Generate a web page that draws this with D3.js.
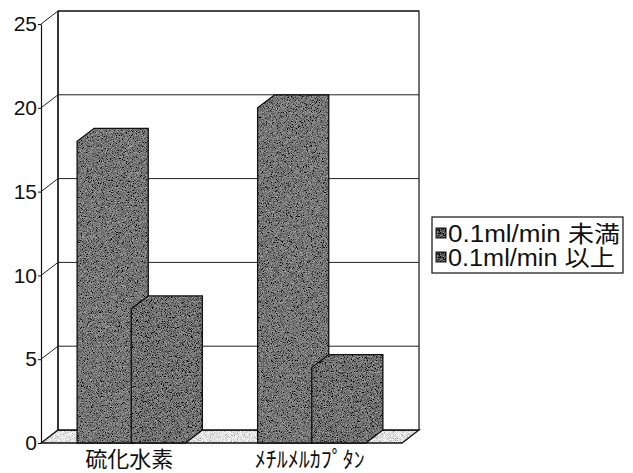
<!DOCTYPE html>
<html>
<head>
<meta charset="utf-8">
<script src="https://cdn.jsdelivr.net/npm/d3@7"></script>
<style>
  body { margin: 0; background: #fff; }
  text { font-family: "Liberation Sans", Arial, "Noto Sans CJK JP", sans-serif; }
</style>
</head>
<body>
<div id="wrapper"></div>
<script>
const categories = ["硫化水素", "ﾒﾁﾙﾒﾙｶﾌﾟﾀﾝ"]
const seriesNames = ["0.1ml/min 未満", "0.1ml/min 以上"]
const below01 = [18, 20]
const above01 = [8, 4.5]
const yTicks = [0, 5, 10, 15, 20, 25]

const width = 633
const height = 473
// depth of the 3d box (front plane -> back plane)
const dx = 17
const dy = -13

const svg = d3.select("#wrapper")
  .append("svg")
  .attr("width", width)
  .attr("height", height)
  .style("background", "#fff")

// grain filter, the source is a scanned print
const defs = svg.append("defs")
function grain(id, amount, seed, freq) {
  const f = defs.append("filter").attr("id", id)
    .attr("x", 0).attr("y", 0).attr("width", 1).attr("height", 1)
  f.append("feTurbulence").attr("type", "fractalNoise")
    .attr("baseFrequency", freq).attr("numOctaves", 2).attr("seed", seed).attr("result", "noise")
  f.append("feColorMatrix").attr("in", "noise").attr("type", "matrix")
    .attr("values", "0.33 0.33 0.33 0 0  0.33 0.33 0.33 0 0  0.33 0.33 0.33 0 0  0 0 0 0 1")
    .attr("result", "gray")
  f.append("feComposite").attr("in", "SourceGraphic").attr("in2", "gray")
    .attr("operator", "arithmetic")
    .attr("k1", 0).attr("k2", 1).attr("k3", amount).attr("k4", -amount / 2)
    .attr("result", "mix")
  f.append("feComposite").attr("in", "mix").attr("in2", "SourceGraphic").attr("operator", "in")
}
grain("grainDark", 1.3, 4, 1.2)
grain("grainLight", 2.4, 7, 1.3)

const y = d3.scaleLinear().domain([0, 25]).range([443, 24])
const x0 = d3.scaleBand().domain(categories).range([41, 402])
const x1 = d3.scaleBand().domain(seriesNames).range([0, x0.bandwidth()])
  .paddingInner(0).paddingOuter(0.667)

const xLeft = x0.range()[0]
const xRight = x0.range()[1]
const yTop = y(25)
const yBase = y(0)

const line = d3.line()

// floor
const floorPts = [[xLeft, yBase], [xRight, yBase], [xRight + dx, yBase + dy], [xLeft + dx, yBase + dy]]
svg.append("path")
  .attr("d", line(floorPts) + "Z")
  .attr("fill", "#e4e4e4")
  .attr("filter", "url(#grainLight)")
svg.append("path")
  .attr("d", line(floorPts) + "Z")
  .attr("fill", "none").attr("stroke", "#111").attr("stroke-width", 1.3)

// back wall + left wall
svg.append("rect")
  .attr("x", xLeft + dx).attr("y", yTop + dy)
  .attr("width", xRight - xLeft).attr("height", yBase - yTop)
  .attr("fill", "#fff").attr("stroke", "#111").attr("stroke-width", 1.2)

const grid = svg.append("g")
grid.selectAll("path.grid")
  .data(yTicks)
  .join("path")
  .attr("class", "grid")
  .attr("d", d => line([[xLeft, y(d)], [xLeft + dx, y(d) + dy], [xRight + dx, y(d) + dy]]))
  .attr("fill", "none")
  .attr("stroke", "#222")
  .attr("stroke-width", 1)

svg.append("line")
  .attr("x1", xLeft + dx).attr("x2", xLeft + dx)
  .attr("y1", yTop + dy).attr("y2", yBase + dy)
  .attr("stroke", "#111").attr("stroke-width", 1.2)

// bars, drawn as one silhouette each (the print shows no inner edges)
const series = [below01, above01]
const barColors = ["#777777", "#727272"]

const barShapes = []
categories.forEach((c, ci) => {
  seriesNames.forEach((s, si) => {
    const v = series[si][ci]
    const bx = x0(c) + x1(s)
    const bw = x1.bandwidth()
    const by = y(v)
    barShapes.push({
      si,
      outline: [[bx, yBase], [bx, by], [bx + dx, by + dy], [bx + bw + dx, by + dy],
                [bx + bw + dx, yBase + dy], [bx + bw, yBase]]
    })
  })
})

const bars = svg.append("g")
barShapes.forEach(b => {
  const g = bars.append("g")
  g.append("path").attr("d", line(b.outline) + "Z")
    .attr("fill", barColors[b.si])
    .attr("filter", "url(#grainDark)")
  g.append("path").attr("d", line(b.outline) + "Z")
    .attr("fill", "none").attr("stroke", "#111").attr("stroke-width", 1.3)
})

// y axis
const yAxis = svg.append("g")
  .attr("transform", `translate(${xLeft},0)`)
  .call(d3.axisLeft(y).tickValues(yTicks).tickSize(3).tickSizeOuter(0).tickPadding(1))
yAxis.select(".domain").attr("stroke", "#111").attr("stroke-width", 1.2)
yAxis.selectAll(".tick line").attr("stroke", "#111")
yAxis.selectAll(".tick text")
  .attr("fill", "#111")
  .style("font-size", "21px")
  .style("font-family", "'Liberation Sans', Arial, sans-serif")

// category labels
svg.append("g").selectAll("text")
  .data(categories)
  .join("text")
  .attr("x", d => x0(d) + x0.bandwidth() / 2 - 2)
  .attr("y", 467)
  .attr("text-anchor", "middle")
  .attr("fill", "#111")
  .style("font-family", "'Noto Sans CJK JP', sans-serif")
  .style("font-size", "22px")
  .text(d => d)

// legend
const legend = svg.append("g").attr("transform", "translate(432,217)")
legend.append("rect")
  .attr("width", 191).attr("height", 56)
  .attr("fill", "#fff").attr("stroke", "#111").attr("stroke-width", 1.2)
const legendWidths = [172, 167]
const items = legend.selectAll("g.item")
  .data(seriesNames)
  .join("g")
  .attr("class", "item")
  .attr("transform", (d, i) => `translate(0,${16 + i * 24})`)
items.append("rect")
  .attr("x", 4).attr("y", -5).attr("width", 10).attr("height", 10)
  .attr("fill", "#555")
  .attr("filter", "url(#grainDark)")
items.append("rect")
  .attr("x", 4).attr("y", -5).attr("width", 10).attr("height", 10)
  .attr("fill", "none").attr("stroke", "#111").attr("stroke-width", 1)
items.append("text")
  .attr("x", 16)
  .attr("y", 9)
  .attr("fill", "#111")
  .style("font-size", "23px")
  .attr("textLength", (d, i) => legendWidths[i])
  .attr("lengthAdjust", "spacingAndGlyphs")
  .text(d => d)
</script>
</body>
</html>
